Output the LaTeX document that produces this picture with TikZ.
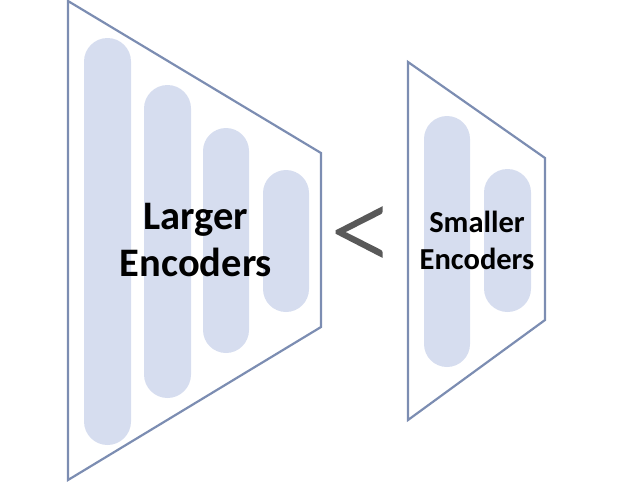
\documentclass[tikz,border=0pt]{standalone}
\usepackage{fontspec}
\setmainfont{Carlito}
\newfontfamily\ltfont{Lato Light}[FakeBold=1.5]
\begin{document}
\begin{tikzpicture}[x=1pt,y=-1pt,
  frame/.style={draw=edgecol,line width=2.2pt,line join=miter},
  pill/.style={fill=pillcol},
  label/.style={align=center,inner sep=0pt,text=black}]
\definecolor{edgecol}{RGB}{124,141,178}
\definecolor{pillcol}{RGB}{214,221,239}
\definecolor{ltcol}{RGB}{89,89,89}
\useasboundingbox (0,0) rectangle (644,483);
% large encoder
\fill[pill,rounded corners=23.5pt] (84,38) rectangle (131,445);
\fill[pill,rounded corners=23.5pt] (144,85) rectangle (191,398);
\fill[pill,rounded corners=23pt] (203,128) rectangle (249,353);
\fill[pill,rounded corners=23pt] (263,170) rectangle (309,312);
\draw[frame] (68,1) -- (321,153) -- (321,327) -- (68,480) -- cycle;
\node[label, font=\bfseries\fontsize{40.5}{47}\selectfont] (large) at (196,240) {Larger\\Encoders};
% less-than
\node[font=\ltfont\fontsize{120}{120}\selectfont,text=ltcol,inner sep=0pt] (lt) at (361,240) {<};
% small encoder
\fill[pill,rounded corners=23pt] (424,116) rectangle (470,367);
\fill[pill,rounded corners=23.5pt] (484,169) rectangle (531,312);
\draw[frame] (408,62) -- (545,158) -- (545,320) -- (408,420) -- cycle;
\node[label, font=\bfseries\fontsize{30.5}{37}\selectfont] (small) at (477,240) {Smaller\\Encoders};
\end{tikzpicture}
\end{document}
